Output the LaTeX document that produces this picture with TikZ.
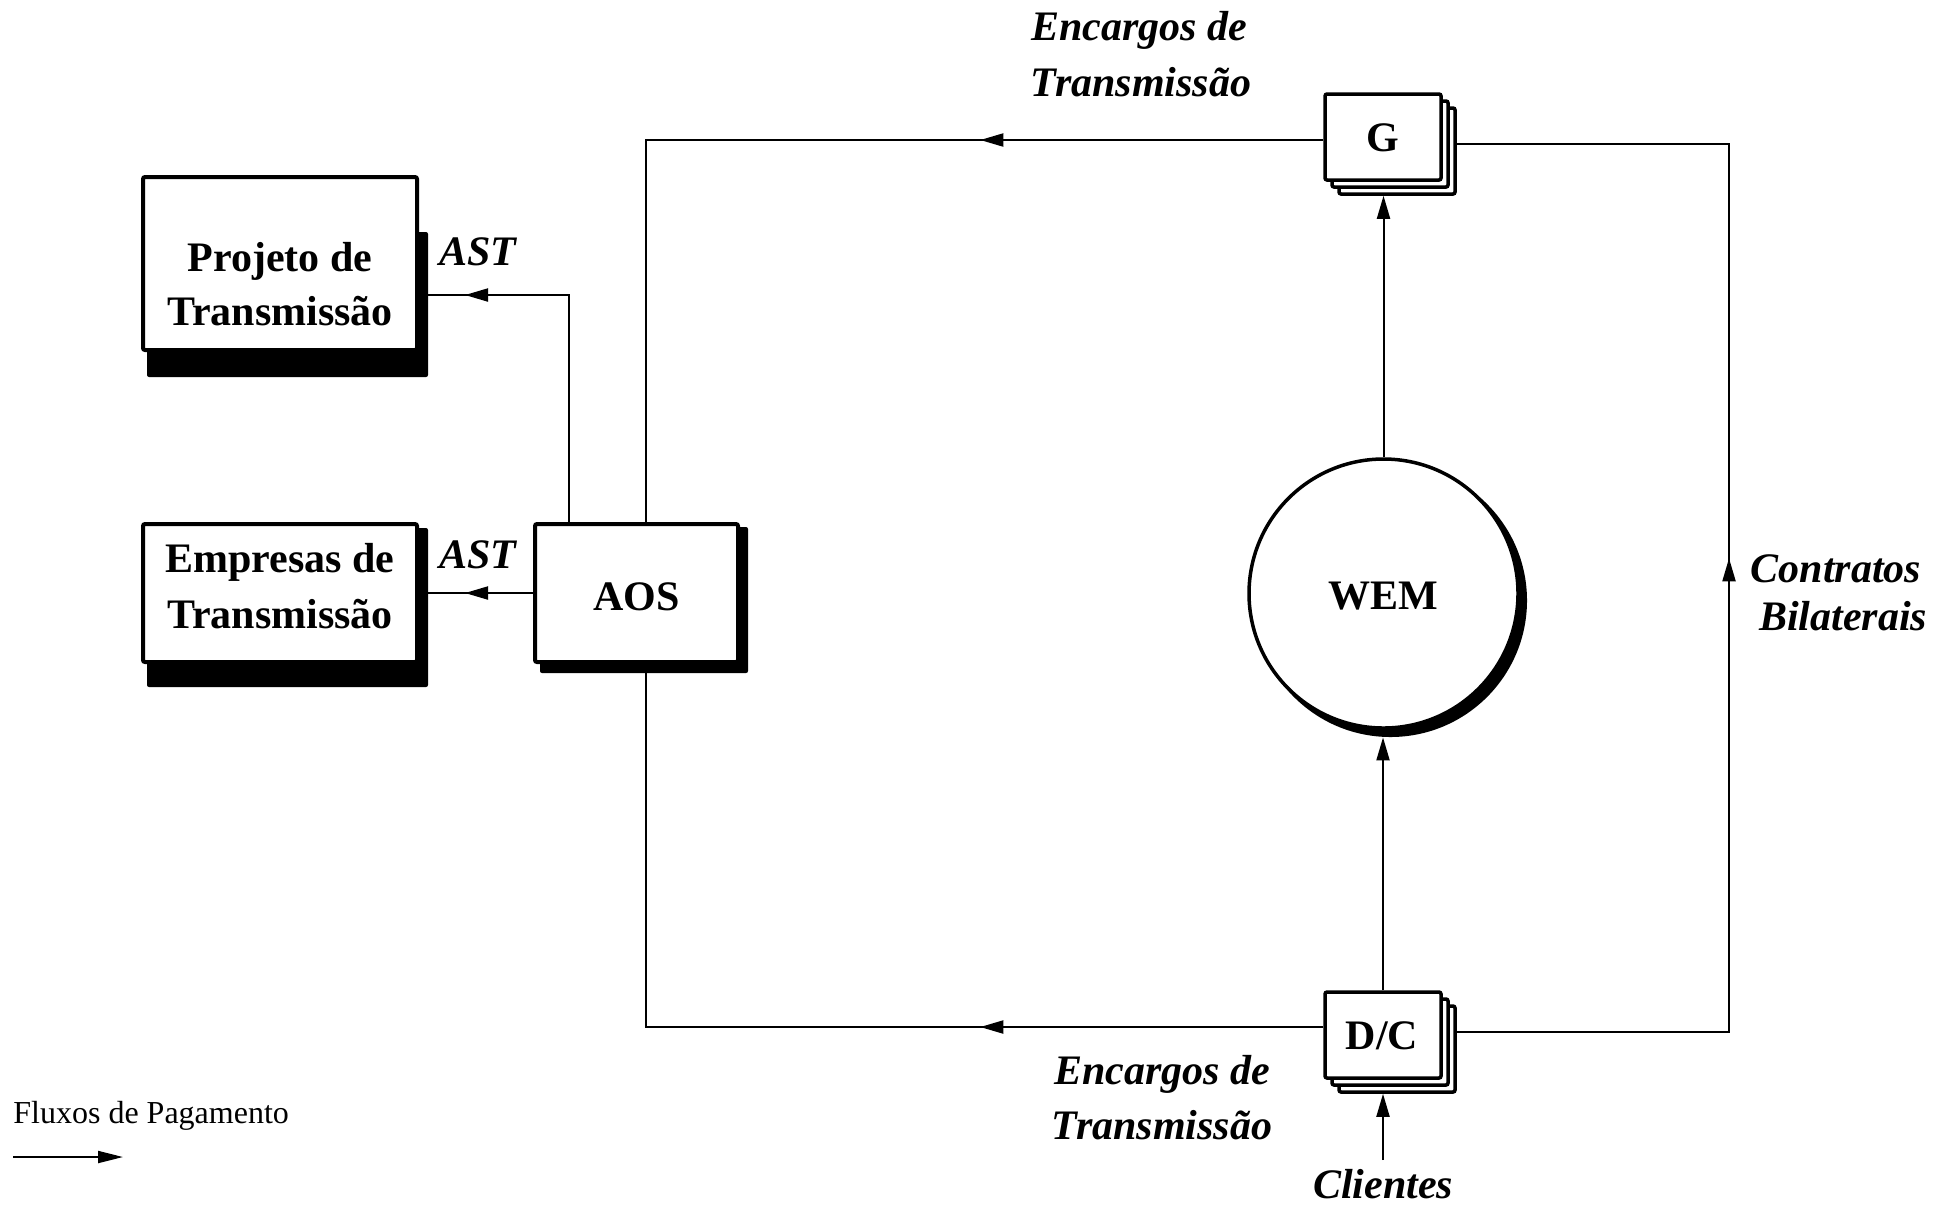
\documentclass[tikz,border=0pt]{standalone}
\usepackage{fontspec}
\setmainfont{Liberation Serif}
\usetikzlibrary{arrows.meta,decorations.markings,calc}
\begin{document}
\begin{tikzpicture}[x=0.5pt,y=-0.5pt,
  conn/.style={line width=1pt},
  tipstyle/.style={-{Triangle[length=11.5pt,width=6.5pt]}},
  flowarrow/.style={postaction={decorate},decoration={markings,mark=at position #1 with {\arrow{Triangle[length=11.5pt,width=6.5pt]}}}},
  box/.style={draw, line width=2pt, fill=white, rectangle, inner sep=0pt, rounded corners=1pt},
  stack/.style={draw, line width=1.75pt, fill=white, rectangle, inner sep=0pt, minimum width=58pt, minimum height=43pt, rounded corners=1pt},
  boxtxt/.style={font=\fontsize{21}{26}\selectfont\bfseries, anchor=base, inner sep=0pt},
  lbl/.style={font=\fontsize{21}{26}\selectfont\bfseries\itshape, anchor=base, inner sep=0pt},
  shade/.style={fill=black, rounded corners=1pt},
]
\useasboundingbox (0,0) rectangle (1946,1207);

% Projeto de Transmissao
\fill[shade] (147,232) rectangle (428,377);
\node[box, minimum width=137pt, minimum height=86.5pt] (proj) at (280,263.5) {};
\node[boxtxt] (projt1) at (280,271) {Projeto de};
\node[boxtxt] (projt2) at (280,325) {Transmissão};

% Empresas de Transmissao
\fill[shade] (147,528) rectangle (428,687);
\node[box, minimum width=137pt, minimum height=69pt] (emp) at (280,593) {};
\node[boxtxt] (empt1) at (280,572) {Empresas de};
\node[boxtxt] (empt2) at (280,628) {Transmissão};

% AOS
\fill[shade] (540,527) rectangle (748,673);
\node[box, minimum width=101.5pt, minimum height=69pt] (aos) at (636.5,593) {};
\node[boxtxt] (aost) at (636.5,610) {AOS};

% G stack
\node[stack] (g3) at (1397,151) {};
\node[stack] (g2) at (1390,144) {};
\node[stack] (g) at (1383,137) {};
\node[boxtxt] (gt) at (1383,151) {G};

% D/C stack
\node[stack] (d3) at (1397,1049) {};
\node[stack] (d2) at (1390,1042) {};
\node[stack] (d) at (1383,1035) {};
\node[boxtxt] (dt) at (1382,1049) {D/C};

% WEM
\node[circle, fill=black, minimum size=136.5pt, inner sep=0pt] (wems) at (1390.5,600.5) {};
\node[circle, draw, line width=1.75pt, fill=white, minimum size=134.5pt, inner sep=0pt] (wem) at (1383.5,593.5) {};
\node[boxtxt] (wemt) at (1383,609) {WEM};

% connectors
\coordinate (xa) at (569,295);
\draw[conn, flowarrow=165.5pt] (aos.north -| xa) -- (xa) -- (proj.east |- xa);
\draw[conn, flowarrow=34pt] (aos.west) -- (aos.west -| emp.east);

\coordinate (xb) at (646,140);
\draw[conn, flowarrow=171.5pt] ([yshift=-1.5pt]g.west) -- (xb) -- (aos.north -| xb);
\coordinate (xc) at (646,1027);
\draw[conn, flowarrow=171.5pt] ([yshift=4pt]d.west) -- (xc) -- (aos.south -| xc);

\coordinate (xr1) at (1729,1032);
\coordinate (xr2) at (1729,144);
\draw[conn, flowarrow=373pt] (d3.east |- xr1) -- (xr1) -- (xr2) -- (g3.east |- xr2);

\draw[conn, tipstyle] (wem.north) -- (wem.north |- g3.south);
\draw[conn, tipstyle] (d.north) -- (d.north |- wems.south);

\node[lbl] (cli) at (1383,1198) {Clientes};
\coordinate (xcl) at (1383,1160);
\draw[conn, tipstyle] (xcl) -- (xcl |- d3.south);

% labels
\node[lbl] (enc1a) at (1139,40) {Encargos de};
\node[lbl] (enc1b) at (1141,96) {Transmissão};
\node[lbl] (enc2a) at (1162,1084) {Encargos de};
\node[lbl] (enc2b) at (1162,1139) {Transmissão};
\node[lbl] (ast1) at (478,265) {AST};
\node[lbl] (ast2) at (478,568) {AST};
\node[lbl] (cb1) at (1836,582) {Contratos};
\node[lbl] (cb2) at (1843,630) {Bilaterais};

% legend
\node[font=\fontsize{16}{19}\selectfont, anchor=base west, inner sep=0pt] (leg) at (13,1123) {Fluxos de Pagamento};
\coordinate (lega) at (13,1157);
\coordinate (legb) at (123,1157);
\draw[conn, -{Triangle[length=12.5pt,width=6pt]}] (lega) -- (legb);
\end{tikzpicture}
\end{document}
